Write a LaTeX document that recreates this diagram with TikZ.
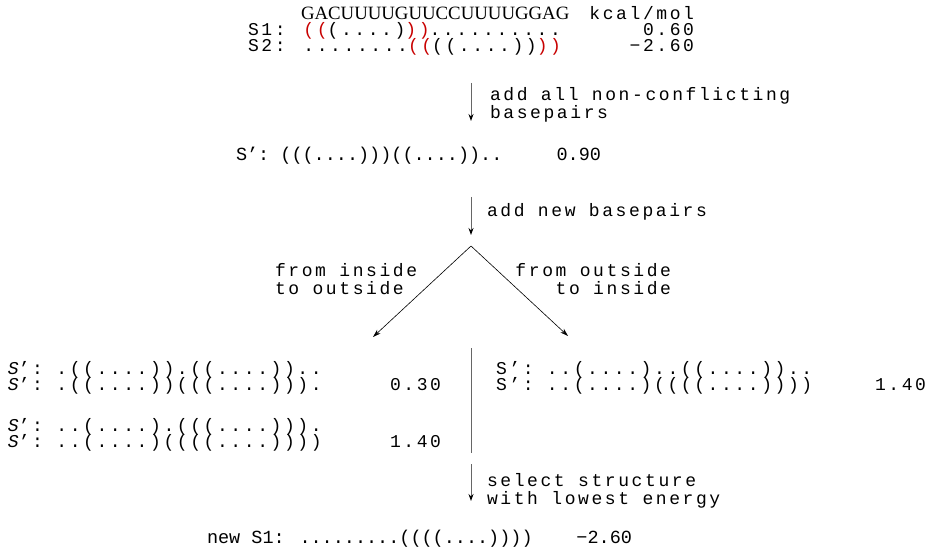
\documentclass[tikz,border=0pt]{standalone}
\usepackage{fontspec}
\usetikzlibrary{arrows.meta}
\newfontfamily\mono{Liberation Mono}
\newfontfamily\monols[LetterSpace=14.4]{Liberation Mono}
\newfontfamily\seqfont{Liberation Serif}
\definecolor{bpred}{RGB}{200,0,0}
\begin{document}
\begin{tikzpicture}[x=1pt,y=-1pt,
  txt/.style={inner sep=0pt, outer sep=0pt, anchor=base west, font=\monols\fontsize{18}{19}\selectfont},
  num/.style={txt, anchor=base east},
  tight/.style={inner sep=0pt, outer sep=0pt, anchor=base west, font=\mono\fontsize{18.5}{19}\selectfont},
  tnum/.style={tight, anchor=base east},
  flow/.style={draw=black!60, line width=0.9pt, -{Stealth[length=7pt,width=5pt,color=black]}},
  split/.style={draw=black, line width=0.6pt, -{Stealth[length=8pt,width=5pt]}},
  sep/.style={draw=black!60, line width=0.9pt}]
\useasboundingbox (0,0) rectangle (926,548);

% top block
\node[txt, font=\seqfont\fontsize{18.8}{20}\selectfont] (seq) at (301,20) {GACUUUUGUUCCUUUUGGAG};
\node[num] (unit) at (694,20) {kcal/mol};
\node[txt] (s1) at (248,36) {S1: \textcolor{bpred}{((}(....)\textcolor{bpred}{))}..........};
\node[num] (e1) at (694,36) {0.60};
\node[txt] (s2) at (248,52) {S2: ........\textcolor{bpred}{((}((....))\textcolor{bpred}{))}};
\node[num] (e2) at (694,52) {−2.60};

% arrow 1
\coordinate (a1s) at (471,83);
\coordinate (a1e) at (471,121);
\draw[flow] (a1s) -- (a1e);
\node[txt] (l1a) at (490,101) {add all non-conflicting};
\node[txt] (l1b) at (490,119) {basepairs};

% S'
\node[tight] (sp) at (236,161) {S’: (((....)))((....))..};
\node[tnum] (ep) at (601,161) {0.90};

% arrow 2
\coordinate (a2s) at (471,197);
\coordinate (a2e) at (471,235);
\draw[flow] (a2s) -- (a2e);
\node[txt] (l2) at (487,216) {add new basepairs};

% split
\coordinate (apex) at (471,246);
\coordinate (lt) at (373,337);
\coordinate (rt) at (568,336);
\draw[split] (apex) -- (lt);
\draw[split] (apex) -- (rt);
\node[txt] (fi1) at (275,276) {from inside};
\node[txt] (fi2) at (275,294) {to outside};
\node[num] (fo1) at (671,276) {from outside};
\node[num] (fo2) at (671,294) {to inside};

% left block
\node[txt] (la) at (8,374) {{\itshape S}’: .((....)).((....))..};
\node[txt] (lb) at (8,390) {{\itshape S}’: .((....))(((....))).};
\node[num] (le1) at (441,390) {0.30};
\node[txt] (lc) at (8,431) {{\itshape S}’: ..(....).(((....))).};
\node[txt] (ld) at (8,447) {{\itshape S}’: ..(....)((((....))))};
\node[num] (le2) at (441,447) {1.40};

% separator
\coordinate (sept) at (471,348);
\coordinate (sepb) at (471,453);
\draw[sep] (sept) -- (sepb);

% right block
\node[txt] (ra) at (496,374) {S’: ..(....)..((....))..};
\node[txt] (rb) at (496,390) {S’: ..(....)((((....))))};
\node[num] (re) at (926,390) {1.40};

% arrow 3
\coordinate (a3s) at (471,464);
\coordinate (a3e) at (471,501);
\draw[flow] (a3s) -- (a3e);
\node[txt] (l3a) at (487,486) {select structure};
\node[txt] (l3b) at (487,504) {with lowest energy};

% result
\node[tight] (ns) at (207,543) {new S1: .........((((....))))};
\node[tnum] (ne) at (632,543) {−2.60};
\end{tikzpicture}
\end{document}
